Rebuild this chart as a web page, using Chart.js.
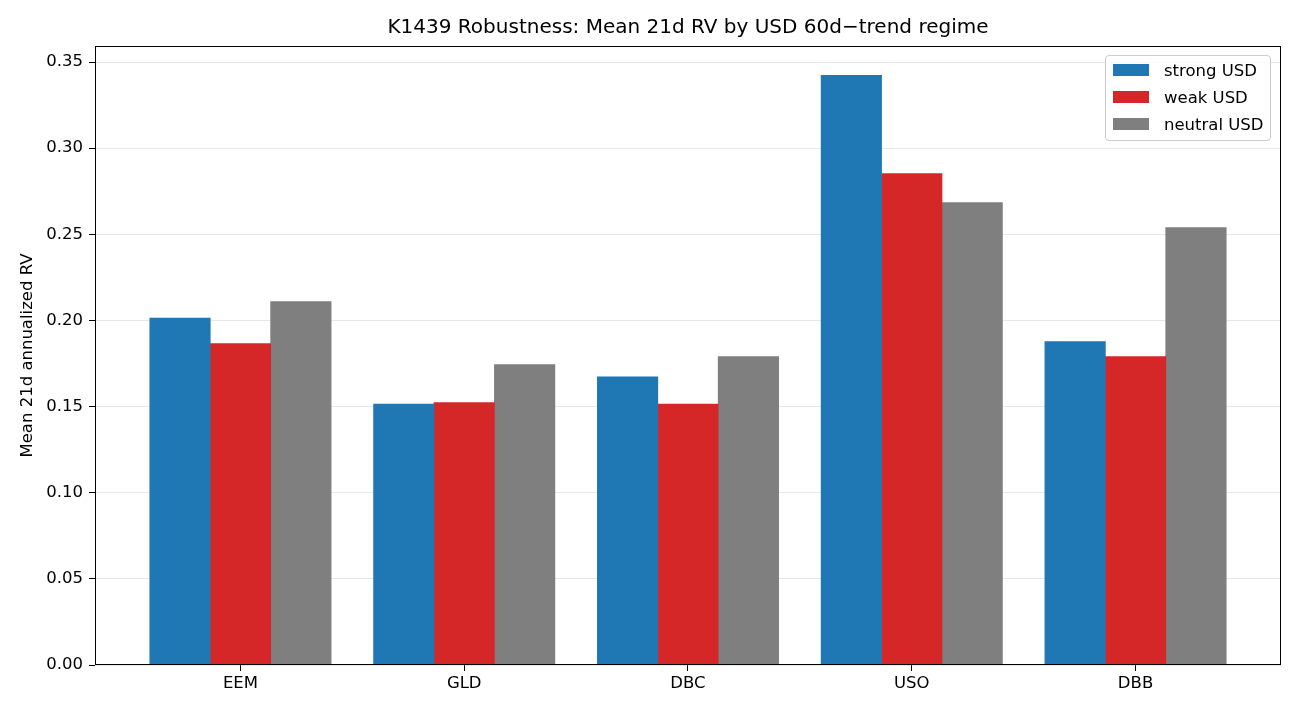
<!DOCTYPE html>
<html><head><meta charset="utf-8">
<script src="https://cdn.jsdelivr.net/npm/chart.js@4.4.0/dist/chart.umd.min.js"></script>
<style>
html,body{margin:0;padding:0;background:#fff;}
#wrap{position:relative;width:1300px;height:715px;}
#legend{position:absolute;left:1105px;top:55px;width:166px;height:86px;border:1px solid #cccccc;border-radius:4px;background:rgba(255,255,255,0.8);font-family:'DejaVu Sans';font-size:16.5px;color:#000;box-sizing:border-box;}
.item{position:absolute;left:7px;height:20px;display:flex;align-items:center;white-space:nowrap;}
.sw{width:36px;height:12px;margin-right:15px;flex:none;}
</style></head><body>
<div id="wrap"><canvas id="c" width="1300" height="715"></canvas><div id="legend"></div></div>
<script>
const categories = ['EEM', 'GLD', 'DBC', 'USO', 'DBB'];
const strongUSD = [0.2016, 0.1517, 0.1675, 0.3424, 0.1879];
const weakUSD = [0.1867, 0.1525, 0.1516, 0.2855, 0.1792];
const neutralUSD = [0.2112, 0.1745, 0.1792, 0.2686, 0.2541];
const seriesNames = ['strong USD', 'weak USD', 'neutral USD'];
const seriesColors = ['#1f77b4', '#d62728', '#7f7f7f'];
const yTicks = [0, 0.05, 0.10, 0.15, 0.20, 0.25, 0.30, 0.35];
const titleText = 'K1439 Robustness: Mean 21d RV by USD 60d\u2212trend regime';
const yLabel = 'Mean 21d annualized RV';

const allSeries = [strongUSD, weakUSD, neutralUSD];
const datasets = allSeries.map((vals, s) => ({
  label: seriesNames[s],
  data: vals.map((v, i) => ({x: i, y: v})),
  backgroundColor: seriesColors[s],
  borderWidth: 0,
  categoryPercentage: 0.81,
  barPercentage: 1.012
}));

// legend
const leg = document.getElementById('legend');
seriesNames.forEach((n, s) => {
  const it = document.createElement('div');
  it.className = 'item';
  it.style.top = (4 + s * 27) + 'px';
  const sw = document.createElement('div');
  sw.className = 'sw';
  sw.style.background = seriesColors[s];
  const tx = document.createElement('span');
  tx.textContent = n;
  it.appendChild(sw); it.appendChild(tx);
  leg.appendChild(it);
});

const framePlugin = {
  id: 'frame',
  afterDraw(chart) {
    const {ctx, chartArea: a} = chart;
    ctx.save();
    ctx.strokeStyle = '#000';
    ctx.lineWidth = 1;
    ctx.strokeRect(Math.round(a.left) + 0.5, Math.round(a.top) + 0.5,
      Math.round(a.right - a.left) - 1, Math.round(a.bottom - a.top) - 1);
    ctx.restore();
  }
};

Chart.defaults.font.family = 'DejaVu Sans';
Chart.defaults.color = '#000';

new Chart(document.getElementById('c'), {
  type: 'bar',
  data: {datasets},
  plugins: [framePlugin],
  options: {
    responsive: false,
    animation: false,
    devicePixelRatio: 1,
    layout: {padding: {left: 0, right: 19, top: 0, bottom: 0}},
    plugins: {
      legend: {display: false},
      tooltip: {enabled: false},
      title: {
        display: true,
        fullSize: false,
        text: titleText,
        color: '#000',
        font: {size: 20, weight: 'normal', family: 'DejaVu Sans'},
        padding: {top: 16, bottom: 6}
      }
    },
    scales: {
      x: {
        type: 'linear',
        min: -0.65,
        max: 4.65,
        offset: false,
        grid: {drawOnChartArea: false, drawTicks: true, tickLength: 6, tickColor: '#000', offset: false},
        border: {display: false},
        afterBuildTicks: s => { s.ticks = categories.map((_, i) => ({value: i})); },
        afterFit: s => { s.height = 50; },
        ticks: {
          font: {size: 16.5},
          color: '#000',
          padding: 3,
          maxRotation: 0,
          autoSkip: false,
          callback: v => categories[v] !== undefined ? categories[v] : ''
        }
      },
      y: {
        type: 'linear',
        min: 0,
        max: 0.3593,
        z: 1,
        grid: {color: 'rgba(176,176,176,0.3)', lineWidth: 1, tickColor: '#000', tickLength: 6},
        border: {display: false},
        afterBuildTicks: s => { s.ticks = yTicks.map(v => ({value: v})); },
        afterFit: s => { s.width = 95; },
        ticks: {
          font: {size: 16.5},
          color: '#000',
          padding: 6,
          callback: v => Number(v).toFixed(2)
        },
        title: {
          display: true,
          text: yLabel,
          color: '#000',
          font: {size: 16.5},
          padding: {top: 18, bottom: 0}
        }
      }
    }
  }
});
</script>
</body></html>
